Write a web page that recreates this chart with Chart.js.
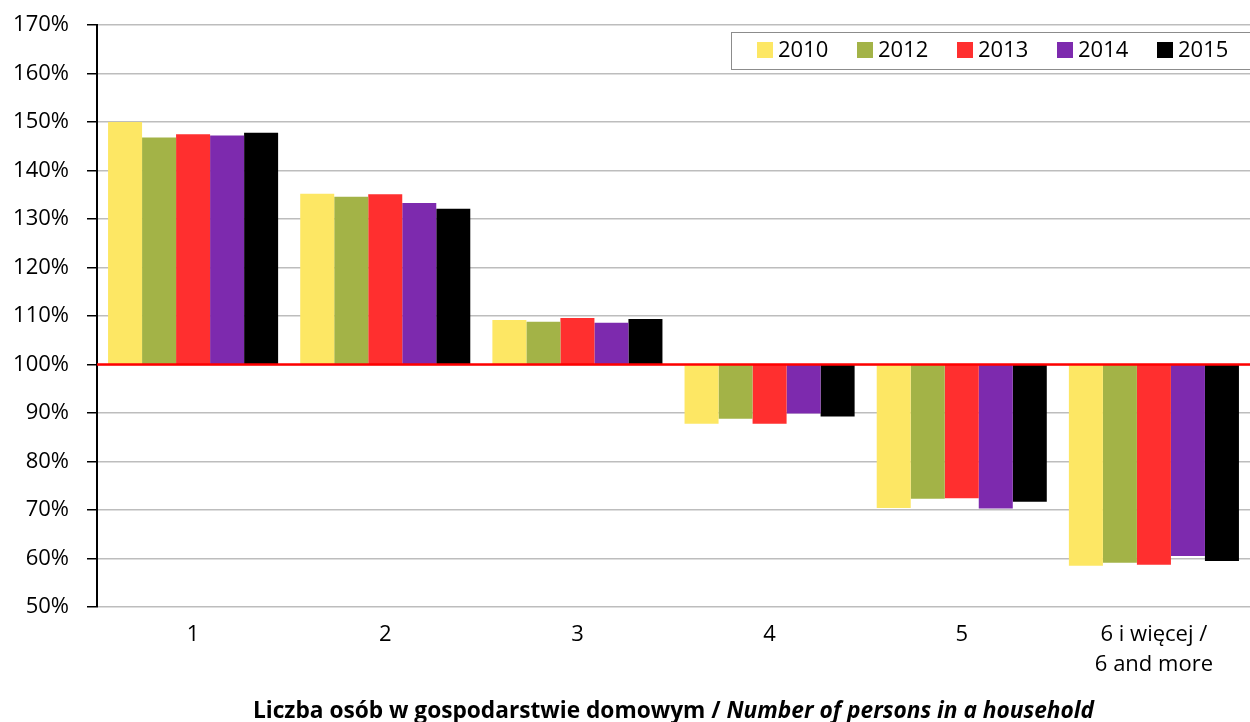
<!DOCTYPE html>
<html>
<head>
<meta charset="utf-8">
<script src="https://cdn.jsdelivr.net/npm/chart.js@4"></script>
<style>
  html, body { margin: 0; padding: 0; background: #fff; }
  #wrap { width: 1250px; height: 722px; }
</style>
</head>
<body>
<div id="wrap"><canvas id="chart" width="1250" height="722"></canvas></div>
<script>
// ── Dane ─────────────────────────────────────────────────────
const categories = ['1', '2', '3', '4', '5', ['6 i więcej /', '6 and more']];
const years      = ['2010', '2012', '2013', '2014', '2015'];
const colors     = ['#fde764', '#a3b347', '#ff2f2f', '#7d2aae', '#000000'];

const v2010 = [150.0, 135.2, 109.2, 87.8, 70.4, 58.5];
const v2012 = [146.8, 134.6, 108.8, 88.8, 72.3, 59.1];
const v2013 = [147.5, 135.1, 109.6, 87.8, 72.4, 58.7];
const v2014 = [147.2, 133.3, 108.6, 89.9, 70.3, 60.5];
const v2015 = [147.8, 132.1, 109.4, 89.3, 71.7, 59.5];

const baseline = 100;
const yTicks   = [50, 60, 70, 80, 90, 100, 110, 120, 130, 140, 150, 160, 170];

const titleBold   = 'Liczba osób w gospodarstwie domowym / ';
const titleItalic = 'Number of persons in a household';

const series = [v2010, v2012, v2013, v2014, v2015];
const FONT = '"Open Sans", "Liberation Sans", sans-serif';

// ── Linia 100% ───────────────────────────────────────────────
const baselinePlugin = {
    id: 'baseline',
    afterDatasetsDraw(chart) {
        const { ctx, chartArea, scales } = chart;
        const y = scales.y.getPixelForValue(baseline);
        ctx.save();
        ctx.strokeStyle = '#ff0000';
        ctx.lineWidth = 2.5;
        ctx.beginPath();
        ctx.moveTo(chartArea.left, y);
        ctx.lineTo(chartArea.right, y);
        ctx.stroke();
        ctx.restore();
    }
};

// ── Legenda w ramce ──────────────────────────────────────────
const boxLegend = {
    id: 'boxLegend',
    afterDraw(chart) {
        const { ctx } = chart;
        const x0 = 731, y0 = 32, w = 530, h = 37;
        ctx.save();
        ctx.fillStyle = '#fff';
        ctx.fillRect(x0, y0, w, h);
        ctx.strokeStyle = '#8c8c8c';
        ctx.lineWidth = 1;
        ctx.strokeRect(x0 + 0.5, y0 + 0.5, w, h);
        ctx.font = '22px ' + FONT;
        ctx.textBaseline = 'middle';
        chart.data.datasets.forEach((ds, i) => {
            const x = 757 + i * 100;
            ctx.fillStyle = ds.backgroundColor;
            ctx.fillRect(x, 42, 16, 16);
            ctx.fillStyle = '#000';
            ctx.fillText(ds.label, x + 21, 51);
        });
        ctx.restore();
    }
};

// ── Tytuł osi X (pogrubiony + kursywa) ───────────────────────
const axisTitle = {
    id: 'axisTitle',
    afterDraw(chart) {
        const { ctx, chartArea } = chart;
        ctx.save();
        const f1 = 'bold 22.7px ' + FONT;
        const f2 = 'italic bold 22.7px ' + FONT;
        ctx.font = f1;
        const w1 = ctx.measureText(titleBold).width;
        ctx.font = f2;
        const w2 = ctx.measureText(titleItalic).width;
        const cx = (chartArea.left + chartArea.right) / 2;
        let x = cx - (w1 + w2) / 2;
        ctx.fillStyle = '#000';
        ctx.textBaseline = 'middle';
        ctx.font = f1;
        ctx.fillText(titleBold, x, 712);
        ctx.font = f2;
        ctx.fillText(titleItalic, x + w1, 712);
        ctx.restore();
    }
};

new Chart(document.getElementById('chart'), {
    type: 'bar',
    data: {
        labels: categories,
        datasets: years.map((yr, i) => ({
            label: yr,
            data: series[i].map(v => [baseline, v]),
            backgroundColor: colors[i],
            borderWidth: 0,
            categoryPercentage: 0.885,
            barPercentage: 1.0,
        })),
    },
    options: {
        responsive: false,
        animation: false,
        layout: { padding: { top: 25, right: 0, bottom: 0, left: 0 } },
        plugins: {
            legend: { display: false },
            title: { display: false },
            tooltip: { enabled: false },
        },
        scales: {
            x: {
                grid: { display: false },
                border: { display: false },
                ticks: {
                    color: '#000',
                    font: { family: FONT, size: 22, lineHeight: 1.4 },
                    padding: 4,
                    maxRotation: 0,
                    autoSkip: false,
                },
                afterFit: s => { s.height = 115; s.paddingLeft = 0; s.paddingRight = 0; },
            },
            y: {
                min: 50,
                max: 170,
                afterBuildTicks: s => { s.ticks = yTicks.map(v => ({ value: v })); },
                grid: {
                    color: '#bdbdbd',
                    lineWidth: 1.5,
                    tickColor: '#000',
                    tickLength: 10,
                },
                border: { color: '#000', width: 2 },
                ticks: {
                    color: '#000',
                    font: { family: FONT, size: 22 },
                    padding: 18,
                    callback: v => v + '%',
                },
                afterFit: s => { s.width = 97; s.paddingTop = 0; s.paddingBottom = 0; },
            },
        },
    },
    plugins: [baselinePlugin, boxLegend, axisTitle],
});
</script>
</body>
</html>
